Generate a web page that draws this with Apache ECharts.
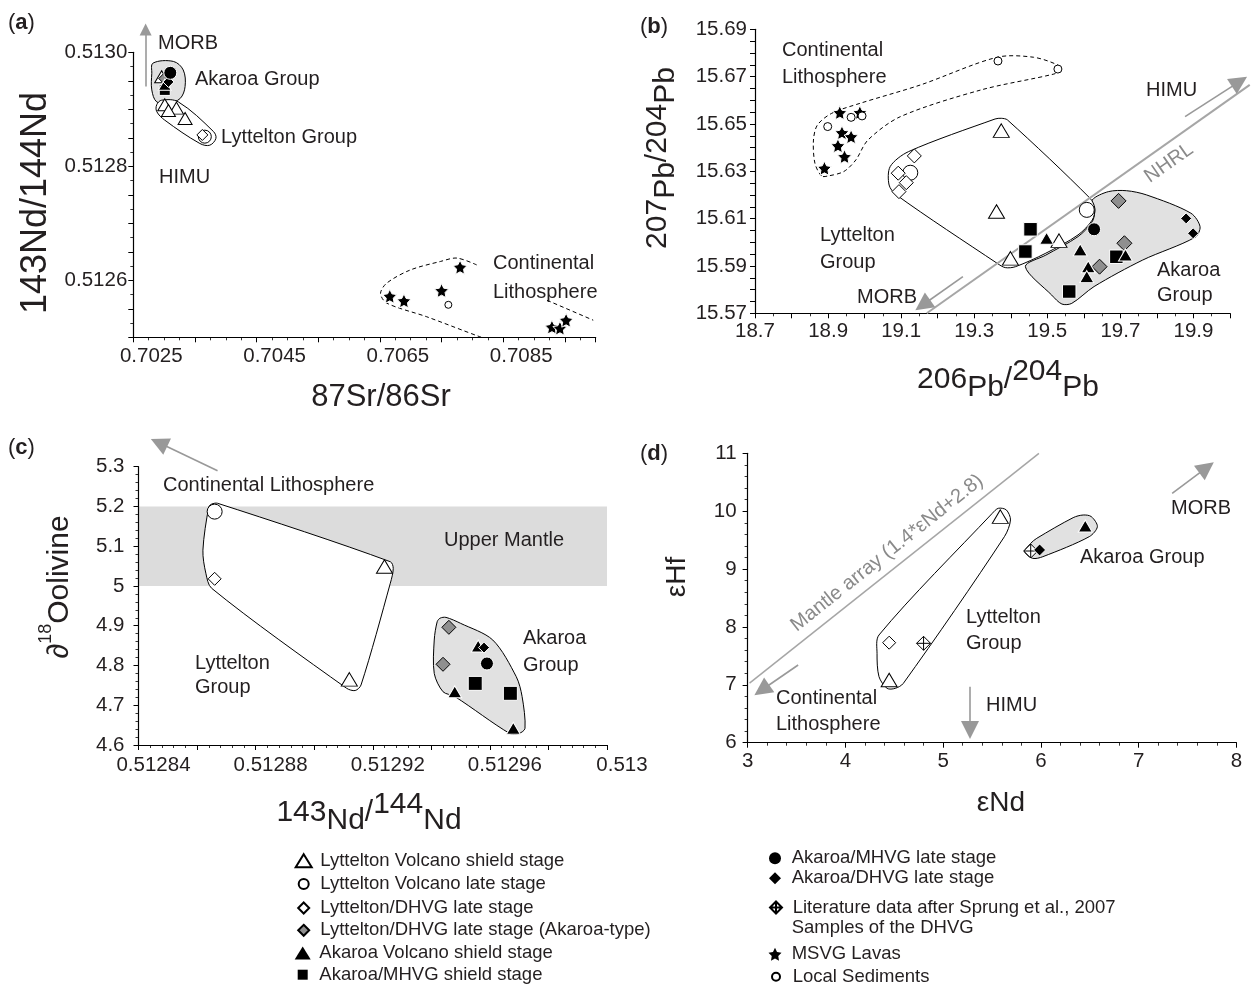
<!DOCTYPE html>
<html><head><meta charset="utf-8">
<script src="https://cdn.jsdelivr.net/npm/echarts@6/dist/echarts.min.js"></script>
<style>html,body{margin:0;padding:0;background:#fff}#c{width:1252px;height:987px}</style>
</head><body><div id="c"></div>
<script>
// ---------- series names ----------
const N_LVS = 'Lyttelton Volcano shield stage';
const N_LVL = 'Lyttelton Volcano late stage';
const N_LDL = 'Lyttelton/DHVG late stage';
const N_LDA = 'Lyttelton/DHVG late stage (Akaroa-type)';
const N_AVS = 'Akaroa Volcano shield stage';
const N_AMS = 'Akaroa/MHVG shield stage';
const N_AML = 'Akaroa/MHVG late stage';
const N_ADL = 'Akaroa/DHVG late stage';
const N_LIT = 'Literature data after Sprung et al., 2007';
const N_MSVG = 'MSVG Lavas';
const N_SED = 'Local Sediments';

// ---------- tick labels ----------
const aXLabels = ['0.7025','0.7045','0.7065','0.7085'];
const aYLabels = ['0.5126','0.5128','0.5130'];
const bXLabels = ['18.7','18.9','19.1','19.3','19.5','19.7','19.9'];
const bYLabels = ['15.57','15.59','15.61','15.63','15.65','15.67','15.69'];
const cXLabels = ['0.51284','0.51288','0.51292','0.51296','0.513'];
const cYLabels = ['4.6','4.7','4.8','4.9','5','5.1','5.2','5.3'];
const dXLabels = ['3','4','5','6','7','8'];
const dYLabels = ['6','7','8','9','10','11'];

// ---------- panel (a): 87Sr/86Sr vs 143Nd/144Nd ----------
const aLytShield = [[0.70296,0.512957],[0.70301,0.512908],[0.70320,0.512902],[0.70307,0.512898],[0.70334,0.512884]];
const aLytLate = [[0.70366,0.512852]];
const aLytDhvg = [[0.70362,0.512855]];
const aLytDhvgAk = [[0.70301,0.512954]];
const aAkShield = [[0.70301,0.512943]];
const aAkMhvgShield = [[0.70301,0.512934]];
const aAkMhvgLate = [[0.70310,0.512964]];
const aAkDhvgLate = [[0.70307,0.512948]];
const aMsvg = [[0.70666,0.512572],[0.70689,0.512564],[0.70750,0.512582],[0.70780,0.512623],[0.70929,0.512518],[0.70942,0.512516],[0.70952,0.512530]];
const aSed = [[0.70761,0.512557]];
const aAkField = [[0.70282,0.512981],[0.70315,0.512984],[0.70331,0.512969],[0.70334,0.512940],[0.70326,0.512919],[0.70307,0.512911],[0.70288,0.512913],[0.70280,0.512934],[0.70280,0.512963]];
const aLytField = [[0.70296,0.512916],[0.70323,0.512913],[0.70380,0.512861],[0.70384,0.512849],[0.70374,0.512837],[0.70358,0.512840],[0.70301,0.512881],[0.70288,0.512896],[0.70288,0.512908]];
const aContField1 = [[0.70807,0.512627],[0.70775,0.512639],[0.70748,0.512633],[0.70699,0.512618],[0.70661,0.512595],[0.70651,0.512577],[0.70661,0.512560],[0.70726,0.512536],[0.70812,0.512501],[0.70830,0.512495]];
const aContField2 = [[0.70921,0.512565],[0.70996,0.512530]];
const aArrows = [[[0.70270,0.51294],[0.70270,0.51304]]];

// ---------- panel (b): 206Pb/204Pb vs 207Pb/204Pb ----------
const bLytShield = [[19.374,15.6472],[19.361,15.6130],[19.532,15.6007],[19.399,15.5932]];
const bLytLate = [[19.608,15.6137],[19.125,15.6294]];
const bLytDhvg = [[19.136,15.6365],[19.092,15.6292],[19.114,15.6252],[19.094,15.6214]];
const bLytDhvgAk = [[19.695,15.6175],[19.711,15.5996],[19.643,15.5897]];
const bAkShield = [[19.498,15.6017],[19.590,15.5968],[19.612,15.5897],[19.608,15.5855],[19.714,15.5946]];
const bAkMhvgShield = [[19.454,15.6055],[19.440,15.5961],[19.560,15.5792],[19.689,15.5939]];
const bAkMhvgLate = [[19.628,15.6055]];
const bAkDhvgLate = [[19.880,15.6101],[19.899,15.6038]];
const bMsvg = [[18.932,15.6548],[18.987,15.6548],[18.938,15.6463],[18.963,15.6446],[18.927,15.6408],[18.945,15.6362],[18.890,15.6313]];
const bSed = [[18.899,15.6489],[18.963,15.6528],[18.993,15.6534],[19.365,15.6766],[19.529,15.6732]];
const bContField = [[18.882,15.628],[18.864,15.6334],[18.860,15.6432],[18.871,15.6496],[18.910,15.6545],[18.987,15.6587],[19.153,15.6665],[19.363,15.6782],[19.462,15.6782],[19.529,15.6749],[19.538,15.6728],[19.518,15.6711],[19.319,15.6644],[19.098,15.6531],[19.009,15.6432],[18.976,15.6348],[18.943,15.6299],[18.899,15.6280]];
const bLytField = [[19.374,15.6524],[19.391,15.6517],[19.617,15.6186],[19.630,15.6144],[19.623,15.6094],[19.584,15.6031],[19.496,15.5954],[19.413,15.5897],[19.385,15.5893],[19.363,15.5911],[19.087,15.6200],[19.067,15.6242],[19.070,15.6320],[19.120,15.6383],[19.357,15.6521]];
const bAkField = [[19.623,15.6179],[19.667,15.6214],[19.717,15.6218],[19.772,15.6200],[19.893,15.6123],[19.918,15.6066],[19.904,15.6021],[19.761,15.5925],[19.628,15.5813],[19.567,15.5742],[19.540,15.5739],[19.512,15.5777],[19.440,15.5897],[19.496,15.5946],[19.584,15.6024],[19.623,15.6087],[19.630,15.6137]];
const bNhrl = [[19.170,15.570],[20.054,15.6665]];
const bArrows = [[[19.877,15.6531],[20.026,15.6679]],[[19.269,15.5855],[19.159,15.5735]]];

// ---------- panel (c): 143Nd/144Nd vs d18O olivine ----------
const cLytShield = [[0.512924,5.049],[0.512912,4.765]];
const cLytLate = [[0.512866,5.187]];
const cLytDhvg = [[0.512866,5.018]];
const cLytDhvgAk = [[0.512946,4.896],[0.512944,4.803]];
const cAkShield = [[0.512956,4.849],[0.512948,4.734],[0.512968,4.642]];
const cAkMhvgShield = [[0.512955,4.755],[0.512967,4.730]];
const cAkMhvgLate = [[0.512959,4.805]];
const cAkDhvgLate = [[0.512958,4.845]];
const cUpperMantle = [5.0, 5.2];
const cLytField = [[0.512865,5.206],[0.512867,5.208],[0.512926,5.061],[0.512927,5.044],[0.512926,5.007],[0.512916,4.751],[0.512914,4.737],[0.512911,4.743],[0.512865,4.994],[0.512863,5.032],[0.512862,5.090],[0.512864,5.199]];
const cAkField = [[0.512943,4.919],[0.512945,4.921],[0.512950,4.906],[0.512961,4.864],[0.512969,4.772],[0.512971,4.722],[0.512972,4.642],[0.512970,4.629],[0.512967,4.628],[0.512948,4.722],[0.512944,4.734],[0.512941,4.780],[0.512941,4.864],[0.512942,4.910]];
const cArrows = [[[0.512867,5.290],[0.512847,5.360]]];

// ---------- panel (d): eNd vs eHf ----------
const dLytShield = [[5.585,9.906],[4.448,7.083]];
const dLytDhvg = [[4.448,7.728]];
const dLit = [[4.80,7.717],[5.896,9.312]];
const dAkDhvgLate = [[5.987,9.330]];
const dAkShield = [[6.454,9.744]];
const dLytField = [[4.344,7.861],[4.324,7.544],[4.344,7.141],[4.427,6.939],[4.510,6.939],[4.593,7.025],[5.627,9.560],[5.689,9.848],[5.647,10.021],[5.565,10.050],[5.503,9.963]];
const dAkField = [[5.896,9.445],[5.834,9.301],[5.916,9.185],[6.020,9.214],[6.495,9.560],[6.578,9.733],[6.516,9.906],[6.433,9.934],[6.330,9.888],[5.958,9.531]];
const dMantle = [[3.02,7.03],[5.98,11.0]];
const dArrows = [[[3.517,7.342],[3.145,6.910]],[[5.275,6.968],[5.275,6.219]],[[7.343,10.309],[7.695,10.752]]];

// ---------- styling ----------
const FONT = '"Liberation Sans", Arial, Helvetica, sans-serif';
const TXT = '#231f20';
const STAR = 'path://M0,-10L2.94,-4.05L9.51,-3.09L4.76,1.55L5.88,8.09L0,5L-5.88,8.09L-4.76,1.55L-9.51,-3.09L-2.94,-4.05Z';
const CROSSDIA = 'path://M0,-10L10,0L0,10L-10,0Z M0,-10L0,10 M-10,0L10,0';
const STY = {};
STY[N_LVS] = ['triangle','#fff','#000'];
STY[N_LVL] = ['circle','#fff','#000'];
STY[N_LDL] = ['diamond','#fff','#000'];
STY[N_LDA] = ['diamond','#8f8f8f','#000'];
STY[N_AVS] = ['triangle','#000','#fff'];
STY[N_AMS] = ['rect','#000','#fff'];
STY[N_AML] = ['circle','#000','#fff'];
STY[N_ADL] = ['diamond','#000','#fff'];
STY[N_LIT] = [CROSSDIA,'#fff','#000'];
STY[N_MSVG] = [STAR,'#000','#fff'];
STY[N_SED] = ['circle','#fff','#000'];

const G = [
  {left:133.3, top:52.3, width:462.4, height:285},
  {left:755, top:29.3, width:475, height:284},
  {left:138.5, top:466.7, width:468.5, height:278.3},
  {left:747.6, top:453.3, width:488.8, height:289.4}
];

function axis(gi, min, max, interval, minorSplit, labels, margin, pad) {
  const vals = labels.map(Number);
  return {
    type:'value', gridIndex:gi, min, max, interval,
    axisLine:{show:true, onZero:false, lineStyle:{color:'#000', width:1.2}},
    axisTick:{show:true, length:5, lineStyle:{color:'#000', width:1}},
    minorTick:{show:minorSplit>1, splitNumber:Math.max(minorSplit,2), length:3, lineStyle:{color:'#000', width:0.8}},
    splitLine:{show:false}, minorSplitLine:{show:false},
    axisLabel:{show:true, showMinLabel:true, showMaxLabel:true, fontSize:20.5, fontFamily:FONT, color:TXT, margin,
      padding: pad || 0,
      formatter: v => { for (let i = 0; i < vals.length; i++) if (Math.abs(v - vals[i]) < 1e-9) return labels[i]; return ''; }}
  };
}

function sc(name, gi, data, size) {
  const s = STY[name];
  return {type:'scatter', name, xAxisIndex:gi, yAxisIndex:gi, data, symbol:s[0], symbolSize:size, z:5,
    itemStyle:{color:s[1], borderColor:s[2], borderWidth:1, opacity:1}, emphasis:{disabled:true}, silent:true};
}
function poly(gi, pts, style, smooth, z, closed) {
  return {type:'custom', xAxisIndex:gi, yAxisIndex:gi, data:[pts[0]], clip:true, silent:true, z,
    renderItem: (p, api) => ({type: closed === false ? 'polyline' : 'polygon',
      shape:{points: pts.map(q => api.coord(q)), smooth}, style})};
}
function arrows(gi, list, head) {
  return {type:'lines', coordinateSystem:'cartesian2d', xAxisIndex:gi, yAxisIndex:gi, clip:false, silent:true, z:4,
    symbol:['none','triangle'], symbolSize:head,
    lineStyle:{color:'#999', width:1.6, opacity:1},
    data: list.map(c => ({coords:c}))};
}
function refLine(gi, pts, w) {
  return {type:'lines', coordinateSystem:'cartesian2d', xAxisIndex:gi, yAxisIndex:gi, clip:false, silent:true, z:3,
    lineStyle:{color:'#a6a6a6', width:w, opacity:1}, data:[{coords:pts}]};
}
const AKFILL = {fill:'#e1e1e1', stroke:'#000', lineWidth:1};
const LYFILL = {fill:'#fff', stroke:'#000', lineWidth:1};
const DASH = {fill:'none', stroke:'#000', lineWidth:1, lineDash:[4,3]};

function T(x, y, text, o) {
  o = o || {};
  return {type:'text', x, y, rotation:o.rot || 0, silent:true, z:100,
    style:{text, fill:o.color || TXT, fontSize:o.size || 20, fontFamily:FONT, align:o.align || 'left',
      verticalAlign:'middle', rich:o.rich}};
}
function richSet(sz) {
  return {
    n:{fontSize:sz, lineHeight:sz + 16, verticalAlign:'middle', fontFamily:FONT, fill:TXT},
    s:{fontSize:sz, lineHeight:sz, verticalAlign:'bottom', fontFamily:FONT, fill:TXT},
    u:{fontSize:sz, lineHeight:sz + 8, verticalAlign:'top', fontFamily:FONT, fill:TXT},
    p:{fontSize:Math.round(sz * 0.6), lineHeight:sz, verticalAlign:'top', fontFamily:FONT, fill:TXT},
    b:{fontSize:22, fontWeight:'bold', fontFamily:FONT, fill:TXT}
  };
}
const R30 = richSet(30);

// one legend row per component so each icon keeps its own size and place
function leg(name, cx, cy, w, h, textX, noBorder) {
  const left = cx - w / 2;
  const item = {name};
  if (noBorder) item.itemStyle = {borderWidth:0};
  return {orient:'vertical', left, top:cy - 10, itemWidth:w, itemHeight:h, padding:0, selectedMode:false,
    symbolKeepAspect:false,
    textStyle:{fontSize:18.5, fontFamily:FONT, color:TXT, lineHeight:20, padding:[0,0,0,Math.max(0, textX - (left + w + 5))]},
    data:[item]};
}

const option = {
  animation:false,
  backgroundColor:'#fff',
  grid: G.map(g => Object.assign({containLabel:false, outerBoundsMode:'none'}, g)),
  xAxis: [
    axis(0, 0.7025, 0.7100, 0.001, 4, aXLabels, 9, [0,0,0,36]),
    axis(1, 18.7, 20.0, 0.1, 2, bXLabels, 8),
    axis(2, 0.51284, 0.513, 0.00002, 5, cXLabels, 10, [0,0,0,30]),
    axis(3, 3, 8, 1, 5, dXLabels, 8)
  ],
  yAxis: [
    axis(0, 0.5125, 0.5130, 0.00005, 2, aYLabels, 6),
    axis(1, 15.57, 15.69, 0.005, 0, bYLabels, 8),
    axis(2, 4.6, 5.3, 0.1, 5, cYLabels, 14),
    axis(3, 6, 11, 1, 5, dYLabels, 11)
  ],
  legend: [
    leg(N_LVS, 302.7, 860.7, 16, 13, 319.3),
    leg(N_LVL, 302.7, 884, 10, 10, 319.3),
    leg(N_LDL, 302.7, 908, 11, 11, 319.3),
    leg(N_LDA, 302.7, 930.3, 11, 11, 319.3),
    leg(N_AVS, 302.7, 953, 16, 13, 319.3, true),
    leg(N_AMS, 302.7, 974.7, 10, 10, 319.3, true),
    leg(N_AML, 775, 858.3, 12, 12, 791.7, true),
    leg(N_ADL, 775, 878.3, 12, 12, 791.7, true),
    leg(N_LIT, 775, 907.5, 12, 12, 791.7),
    leg(N_MSVG, 775, 954.3, 13, 13, 791.7, true),
    leg(N_SED, 775, 976.7, 8, 8, 791.7)
  ],
  series: [
    // panel a
    poly(0, aAkField, AKFILL, 0.35, 1),
    poly(0, aLytField, LYFILL, 0.35, 1),
    poly(0, aContField1, DASH, 0.3, 1, false),
    poly(0, aContField2, DASH, 0, 1, false),
    arrows(0, aArrows, [8,12]),
    sc(N_LVS, 0, aLytShield, [14,12]), sc(N_LVL, 0, aLytLate, 13), sc(N_LDL, 0, aLytDhvg, 11),
    sc(N_LDA, 0, aLytDhvgAk, 12), sc(N_AMS, 0, aAkMhvgShield, 11), sc(N_AVS, 0, aAkShield, [13,11]),
    sc(N_ADL, 0, aAkDhvgLate, 11), sc(N_AML, 0, aAkMhvgLate, 13),
    sc(N_MSVG, 0, aMsvg, 14), sc(N_SED, 0, aSed, 7),
    // panel b
    poly(1, bAkField, AKFILL, 0.3, 1),
    poly(1, bLytField, LYFILL, 0.3, 1),
    poly(1, bContField, DASH, 0.3, 1),
    refLine(1, bNhrl, 2),
    arrows(1, bArrows, [12,18]),
    sc(N_LVS, 1, bLytShield, [16,13.5]), sc(N_LVL, 1, bLytLate, 15), sc(N_LDL, 1, bLytDhvg, 14),
    sc(N_LDA, 1, bLytDhvgAk, 15), sc(N_AMS, 1, bAkMhvgShield, 13.5), sc(N_AVS, 1, bAkShield, [14,12]),
    sc(N_ADL, 1, bAkDhvgLate, 11), sc(N_AML, 1, bAkMhvgLate, 13),
    sc(N_MSVG, 1, bMsvg, 14), sc(N_SED, 1, bSed, 8),
    // panel c
    poly(2, [[0.51284,cUpperMantle[0]],[0.513,cUpperMantle[0]],[0.513,cUpperMantle[1]],[0.51284,cUpperMantle[1]]], {fill:'#dcdcdc', stroke:'none'}, 0, 0),
    poly(2, cAkField, AKFILL, 0.3, 1),
    poly(2, cLytField, LYFILL, 0.3, 1),
    arrows(2, cArrows, [12,18]),
    sc(N_LVS, 2, cLytShield, [16,13.5]), sc(N_LVL, 2, cLytLate, 15), sc(N_LDL, 2, cLytDhvg, 13),
    sc(N_LDA, 2, cLytDhvgAk, 14), sc(N_AMS, 2, cAkMhvgShield, 14), sc(N_AVS, 2, cAkShield, [14,12]),
    sc(N_ADL, 2, cAkDhvgLate, 11), sc(N_AML, 2, cAkMhvgLate, 13),
    // panel d
    poly(3, dAkField, AKFILL, 0.3, 1),
    poly(3, dLytField, LYFILL, 0.3, 1),
    refLine(3, dMantle, 1.5),
    arrows(3, dArrows, [12,18]),
    sc(N_LVS, 3, dLytShield, [16,13.5]), sc(N_LDL, 3, dLytDhvg, 13), sc(N_LIT, 3, dLit, 14),
    sc(N_ADL, 3, dAkDhvgLate, 12), sc(N_AVS, 3, dAkShield, [14,12])
  ],
  graphic: [
    // panel letters
    T(8, 23, '({b|a})', {size:22, rich:R30}),
    T(640, 27, '({b|b})', {size:22, rich:R30}),
    T(8, 448, '({b|c})', {size:22, rich:R30}),
    T(640, 454, '({b|d})', {size:22, rich:R30}),
    // axis names
    T(36, 203, '143Nd/144Nd', {size:36, rot:Math.PI/2, align:'center'}),
    T(381, 397, '87Sr/86Sr', {size:31, align:'center'}),
    T(658, 158, '{n|207}{s|Pb}{n|/}{n|204}{s|Pb}', {rot:Math.PI/2, align:'center', rich:R30}),
    T(1008, 380, '{n|206}{s|Pb}{n|/}{u|204}{s|Pb}', {align:'center', rich:R30}),
    T(60, 587, '{n|∂}{p|18}{n|Oolivine}', {rot:Math.PI/2, align:'center', rich:R30}),
    T(369, 813, '{n|143}{s|Nd}{n|/}{u|144}{s|Nd}', {align:'center', rich:R30}),
    T(677, 577, 'εHf', {size:28, rot:Math.PI/2, align:'center'}),
    T(1001, 803, 'εNd', {size:28, align:'center'}),
    // panel a annotations
    T(158, 43, 'MORB'), T(195, 79, 'Akaroa Group'), T(221, 137, 'Lyttelton Group'), T(159, 177, 'HIMU'),
    T(493, 263, 'Continental'), T(493, 292, 'Lithosphere'),
    // panel b annotations
    T(782, 50, 'Continental'), T(782, 77, 'Lithosphere'), T(1146, 90, 'HIMU'),
    T(1169, 163, 'NHRL', {rot:35*Math.PI/180, align:'center', color:'#8a8a8a'}),
    T(820, 235, 'Lyttelton'), T(820, 262, 'Group'), T(857, 297, 'MORB'),
    T(1157, 270, 'Akaroa'), T(1157, 295, 'Group'),
    // panel c annotations
    T(163, 485, 'Continental Lithosphere'), T(444, 540, 'Upper Mantle'),
    T(195, 663, 'Lyttelton'), T(195, 687, 'Group'), T(523, 638, 'Akaroa'), T(523, 665, 'Group'),
    // panel d annotations
    T(1171, 508, 'MORB'), T(1080, 557, 'Akaroa Group'), T(966, 617, 'Lyttelton'), T(966, 643, 'Group'),
    T(776, 698, 'Continental'), T(776, 724, 'Lithosphere'), T(986, 705, 'HIMU'),
    T(887, 553, 'Mantle array (1.4*εNd+2.8)', {rot:38.5*Math.PI/180, align:'center', color:'#8a8a8a'}),
    // second line of the literature legend entry
    T(791.7, 928, 'Samples of the DHVG', {size:18.5})
  ]
};
const chart = echarts.init(document.getElementById('c'), null, {renderer:'canvas'});
chart.setOption(option);
</script></body></html>
